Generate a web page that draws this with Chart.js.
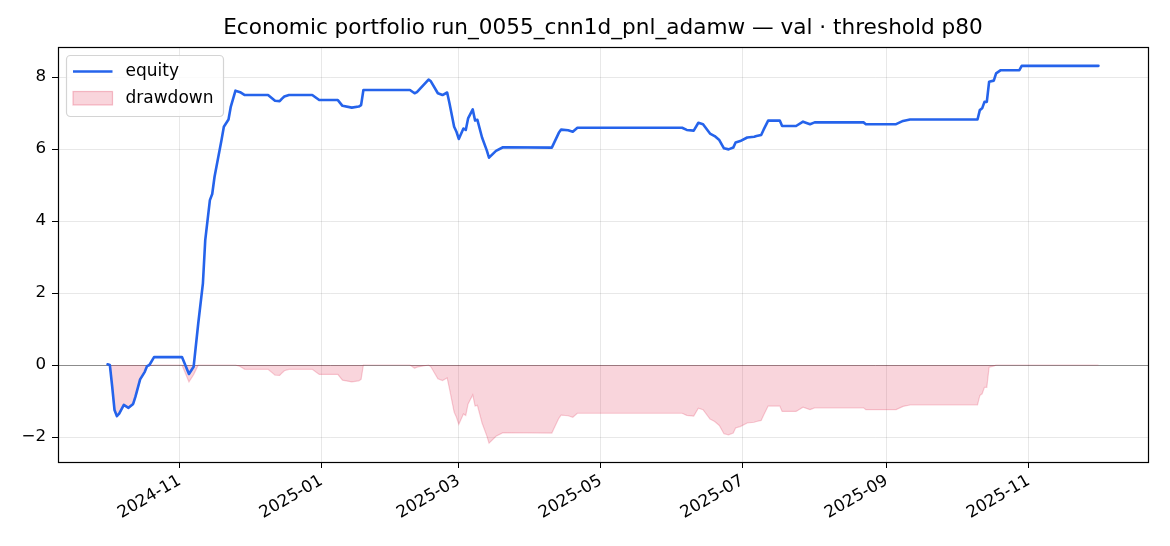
<!DOCTYPE html>
<html>
<head>
<meta charset="utf-8">
<title>Economic portfolio</title>
<script src="https://cdn.jsdelivr.net/npm/chart.js@4.4.0/dist/chart.umd.min.js"></script>
<style>
  html, body { margin: 0; padding: 0; background: #fff; }
  #wrap { width: 1170px; height: 546px; }
</style>
</head>
<body>
<div id="wrap"><canvas id="ddChart" width="1170" height="546"></canvas></div>
<script>
// values
var dates = [
  "2024-10-01", "2024-10-02", "2024-10-03", "2024-10-04", "2024-10-05", "2024-10-06",
  "2024-10-08", "2024-10-10", "2024-10-12", "2024-10-13", "2024-10-15", "2024-10-17",
  "2024-10-18", "2024-10-19", "2024-10-21", "2024-11-02", "2024-11-05", "2024-11-07",
  "2024-11-09", "2024-11-11", "2024-11-12", "2024-11-14", "2024-11-15", "2024-11-16",
  "2024-11-19", "2024-11-20", "2024-11-22", "2024-11-23", "2024-11-25", "2024-11-27",
  "2024-11-29", "2024-12-09", "2024-12-12", "2024-12-14", "2024-12-15", "2024-12-16",
  "2024-12-18", "2024-12-28", "2024-12-31", "2025-01-08", "2025-01-10", "2025-01-14",
  "2025-01-17", "2025-01-18", "2025-01-19", "2025-02-08", "2025-02-10", "2025-02-11",
  "2025-02-16", "2025-02-17", "2025-02-20", "2025-02-22", "2025-02-24", "2025-02-25",
  "2025-02-27", "2025-02-28", "2025-03-01", "2025-03-03", "2025-03-04", "2025-03-05",
  "2025-03-07", "2025-03-08", "2025-03-09", "2025-03-11", "2025-03-13", "2025-03-14",
  "2025-03-17", "2025-03-20", "2025-04-10", "2025-04-13", "2025-04-14", "2025-04-17",
  "2025-04-19", "2025-04-21", "2025-06-05", "2025-06-07", "2025-06-10", "2025-06-12",
  "2025-06-14", "2025-06-17", "2025-06-19", "2025-06-21", "2025-06-23", "2025-06-25",
  "2025-06-27", "2025-06-28", "2025-06-30", "2025-07-03", "2025-07-06", "2025-07-07",
  "2025-07-09", "2025-07-10", "2025-07-12", "2025-07-17", "2025-07-18", "2025-07-24",
  "2025-07-27", "2025-07-30", "2025-08-01", "2025-08-22", "2025-08-23", "2025-09-05",
  "2025-09-08", "2025-09-11", "2025-10-10", "2025-10-11", "2025-10-12", "2025-10-13",
  "2025-10-14", "2025-10-15", "2025-10-17", "2025-10-18", "2025-10-20", "2025-10-28",
  "2025-10-29", "2025-12-01"
];

var equity = [
  0.02, 0.00, -0.60, -1.25, -1.42, -1.35,
  -1.11, -1.19, -1.08, -0.88, -0.40, -0.19,
  -0.03, 0.00, 0.22, 0.22, -0.25, -0.05,
  1.16, 2.27, 3.47, 4.58, 4.75, 5.23,
  6.25, 6.62, 6.82, 7.18, 7.62, 7.58,
  7.50, 7.50, 7.34, 7.33, 7.40, 7.46,
  7.50, 7.50, 7.36, 7.36, 7.20, 7.15,
  7.18, 7.22, 7.64, 7.64, 7.55, 7.58,
  7.93, 7.88, 7.55, 7.50, 7.57, 7.27,
  6.62, 6.48, 6.28, 6.57, 6.53, 6.85,
  7.10, 6.79, 6.81, 6.32, 5.97, 5.76,
  5.95, 6.05, 6.04, 6.45, 6.54, 6.52,
  6.48, 6.59, 6.59, 6.53, 6.51, 6.73,
  6.69, 6.43, 6.36, 6.25, 6.02, 5.99,
  6.04, 6.18, 6.22, 6.32, 6.34, 6.36,
  6.39, 6.53, 6.79, 6.79, 6.64, 6.64,
  6.76, 6.69, 6.74, 6.74, 6.69, 6.69,
  6.78, 6.82, 6.82, 7.08, 7.13, 7.31,
  7.31, 7.87, 7.90, 8.10, 8.19, 8.19,
  8.31, 8.31
];

var drawdown = [
  0.00, -0.02, -0.62, -1.27, -1.44, -1.37,
  -1.13, -1.21, -1.10, -0.90, -0.42, -0.21,
  -0.05, -0.02, 0.00, 0.00, -0.47, -0.27,
  0.00, 0.00, 0.00, 0.00, 0.00, 0.00,
  0.00, 0.00, 0.00, 0.00, 0.00, -0.04,
  -0.12, -0.12, -0.28, -0.29, -0.22, -0.16,
  -0.12, -0.12, -0.26, -0.26, -0.42, -0.47,
  -0.44, -0.40, 0.00, 0.00, -0.09, -0.06,
  0.00, -0.05, -0.38, -0.43, -0.36, -0.66,
  -1.31, -1.45, -1.65, -1.36, -1.40, -1.08,
  -0.83, -1.14, -1.12, -1.61, -1.96, -2.17,
  -1.98, -1.88, -1.89, -1.48, -1.39, -1.41,
  -1.45, -1.34, -1.34, -1.40, -1.42, -1.20,
  -1.24, -1.50, -1.57, -1.68, -1.91, -1.94,
  -1.89, -1.75, -1.71, -1.61, -1.59, -1.57,
  -1.54, -1.40, -1.14, -1.14, -1.29, -1.29,
  -1.17, -1.24, -1.19, -1.19, -1.24, -1.24,
  -1.15, -1.11, -1.11, -0.85, -0.80, -0.62,
  -0.62, -0.06, -0.03, 0.00, 0.00, 0.00,
  0.00, 0.00
];

var xTickLabels = ["2024-11", "2025-01", "2025-03", "2025-05", "2025-07", "2025-09", "2025-11"];
var yTicks = [-2, 0, 2, 4, 6, 8];

var titleText = "Economic portfolio run_0055_cnn1d_pnl_adamw \u2014 val \u00b7 threshold p80";
var FONT = "'DejaVu Sans', Verdana, sans-serif";

function toMs(d) { return Date.parse(d + "T00:00:00Z"); }

var equityPts = dates.map(function (d, i) { return { x: toMs(d), y: equity[i] }; });
var ddPts = dates.map(function (d, i) { return { x: toMs(d), y: drawdown[i] }; });

// matplotlib style 5% margins
var x0 = toMs(dates[0]), x1 = toMs(dates[dates.length - 1]);
var xPad = (x1 - x0) * 0.05;
var yLo = Math.min.apply(null, drawdown.concat(equity));
var yHi = Math.max.apply(null, drawdown.concat(equity));
var yPad = (yHi - yLo) * 0.05;

var framePlugin = {
  id: 'frame',
  beforeDatasetsDraw: function (chart) {
    var ctx = chart.ctx, a = chart.chartArea;
    var y0 = chart.scales.y.getPixelForValue(0);
    ctx.save();
    ctx.strokeStyle = 'rgba(0,0,0,0.4)';
    ctx.lineWidth = 1;
    ctx.beginPath();
    ctx.moveTo(a.left, Math.round(y0) + 0.5);
    ctx.lineTo(a.right, Math.round(y0) + 0.5);
    ctx.stroke();
    ctx.restore();
  },
  afterDraw: function (chart) {
    var ctx = chart.ctx, a = chart.chartArea;
    ctx.save();
    // axes box
    ctx.strokeStyle = '#000';
    ctx.lineWidth = 1.2;
    ctx.strokeRect(Math.round(a.left) + 0.5, Math.round(a.top) + 0.5,
      Math.round(a.right - a.left), Math.round(a.bottom - a.top));

    // title
    ctx.fillStyle = '#000';
    ctx.font = '21.6px ' + FONT;
    ctx.textAlign = 'center';
    ctx.textBaseline = 'middle';
    ctx.fillText(titleText, (a.left + a.right) / 2, 28);

    // legend, upper left inside the axes
    var bx = a.left + 8.5, by = a.top + 8.5, bw = 157, bh = 61, r = 4;
    ctx.beginPath();
    ctx.moveTo(bx + r, by);
    ctx.arcTo(bx + bw, by, bx + bw, by + bh, r);
    ctx.arcTo(bx + bw, by + bh, bx, by + bh, r);
    ctx.arcTo(bx, by + bh, bx, by, r);
    ctx.arcTo(bx, by, bx + bw, by, r);
    ctx.closePath();
    ctx.fillStyle = 'rgba(255,255,255,0.8)';
    ctx.fill();
    ctx.strokeStyle = '#d4d4d4';
    ctx.lineWidth = 1.2;
    ctx.stroke();

    ctx.strokeStyle = '#2563eb';
    ctx.lineWidth = 2.6;
    ctx.beginPath();
    ctx.moveTo(bx + 6.5, by + 16);
    ctx.lineTo(bx + 46, by + 16);
    ctx.stroke();

    ctx.fillStyle = 'rgba(220,20,60,0.18)';
    ctx.fillRect(bx + 6.5, by + 36, 39.5, 13.5);
    ctx.strokeStyle = 'rgba(220,20,60,0.25)';
    ctx.lineWidth = 1.2;
    ctx.strokeRect(bx + 6.5, by + 36, 39.5, 13.5);

    ctx.fillStyle = '#000';
    ctx.font = '17px ' + FONT;
    ctx.textAlign = 'left';
    ctx.textBaseline = 'middle';
    ctx.fillText('equity', bx + 59, by + 16);
    ctx.fillText('drawdown', bx + 59, by + 43);
    ctx.restore();
  }
};

var ddChart = new Chart(document.getElementById("ddChart"), {
  type: 'line',
  data: {
    datasets: [{
      label: 'equity',
      data: equityPts,
      borderColor: '#2563eb',
      borderWidth: 2.6,
      pointRadius: 0,
      tension: 0,
      fill: false,
      order: 0,
      borderJoinStyle: 'round',
      borderCapStyle: 'round'
    }, {
      label: 'drawdown',
      data: ddPts,
      borderColor: 'rgba(220,20,60,0.2)',
      backgroundColor: 'rgba(220,20,60,0.18)',
      borderWidth: 1.2,
      pointRadius: 0,
      tension: 0,
      fill: 'origin',
      order: 1
    }]
  },
  options: {
    responsive: false,
    devicePixelRatio: 1,
    animation: false,
    events: [],
    layout: { padding: { top: 47, right: 22, left: 0, bottom: 0 } },
    plugins: {
      legend: { display: false },
      title: { display: false },
      tooltip: { enabled: false }
    },
    scales: {
      x: {
        type: 'linear',
        min: x0 - xPad,
        max: x1 + xPad,
        afterBuildTicks: function (scale) {
          scale.ticks = xTickLabels.map(function (l) { return { value: toMs(l + "-01") }; });
        },
        afterFit: function (scale) { scale.height = 84; },
        border: { display: false },
        grid: { color: 'rgba(0,0,0,0.09)', tickColor: '#000', tickLength: 6, lineWidth: 1 },
        ticks: {
          autoSkip: false,
          minRotation: 30,
          maxRotation: 30,
          padding: 3,
          color: '#000',
          font: { family: FONT, size: 16.7 },
          callback: function (v) {
            var d = new Date(v);
            var m = d.getUTCMonth() + 1;
            return d.getUTCFullYear() + '-' + (m < 10 ? '0' + m : m);
          }
        }
      },
      y: {
        type: 'linear',
        min: yLo - yPad,
        max: yHi + yPad,
        afterBuildTicks: function (scale) {
          scale.ticks = yTicks.map(function (v) { return { value: v }; });
        },
        afterFit: function (scale) { scale.width = 58; },
        border: { display: false },
        grid: { color: 'rgba(0,0,0,0.09)', tickColor: '#000', tickLength: 6, lineWidth: 1 },
        ticks: {
          padding: 6,
          color: '#000',
          font: { family: FONT, size: 16.7 },
          callback: function (v) { return String(v).replace('-', '\u2212'); }
        }
      }
    }
  },
  plugins: [framePlugin]
});
</script>
</body>
</html>
